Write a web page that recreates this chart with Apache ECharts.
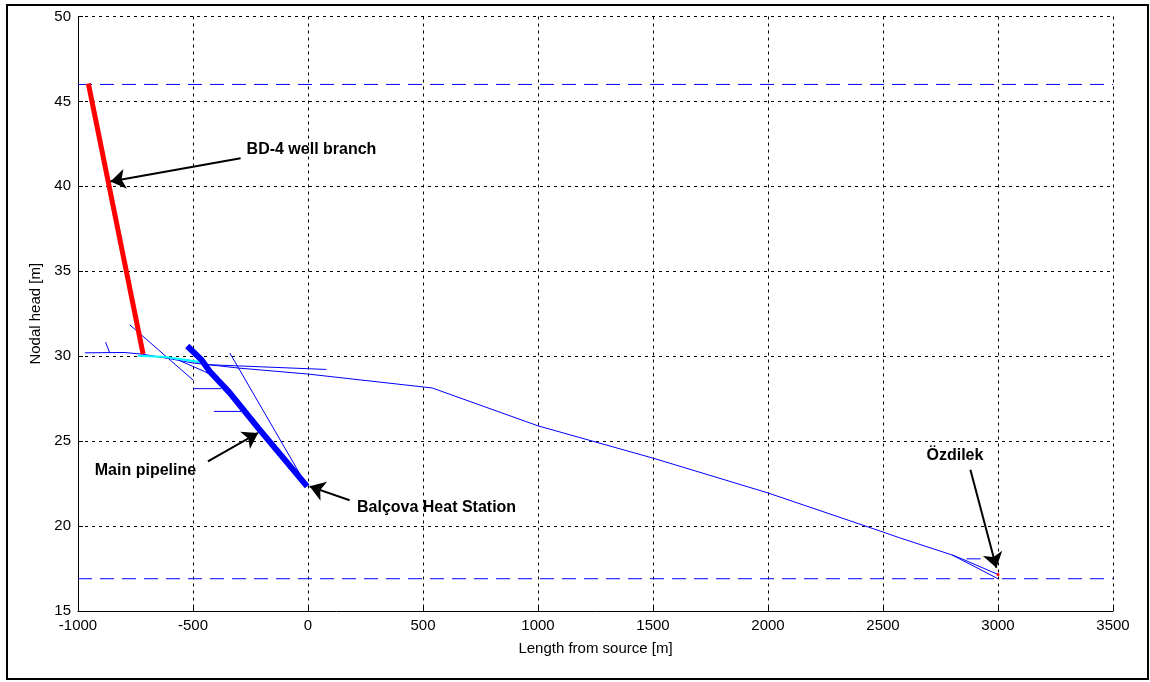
<!DOCTYPE html>
<html>
<head>
<meta charset="utf-8">
<script src="https://cdn.jsdelivr.net/npm/echarts@6/dist/echarts.min.js"></script>
<style>
html,body{margin:0;padding:0;background:#fff;}
#chart{width:1150px;height:682px;}
</style>
</head>
<body>
<div id="chart"></div>
<script>
// ---- axis ranges ----
const xRange = [-1000, 3500, 500];
const yRange = [15, 50, 5];
const xName = 'Length from source [m]';
const yName = 'Nodal head [m]';

// ---- data (length [m], nodal head [m]) ----
const wellBranch = [[-955, 46.05], [-717, 30.13]];
const mainPipeline = [[-525, 30.6], [-464, 29.8], [-427, 29.1], [-340, 27.84], [-217, 25.78], [-4, 22.34]];
const trunk = [[-970, 30.2], [-800, 30.22], [-720, 30.12], [-600, 29.85], [-500, 29.6], [-300, 29.3], [0, 28.95], [540, 28.13], [1000, 25.9], [1500, 24.0], [2000, 21.95], [2500, 19.65], [2572, 19.31], [2800, 18.3], [3000, 16.9]];
const ozdilekBranch = [[2800, 18.3], [2833, 18.13], [3000, 17.15]];
const shortBranchEnd = [[2863, 18.07], [2925, 18.07]];
const branchD = [[-530, 29.8], [-430, 29.5], [80, 29.22]];
const branchF = [[-775, 31.85], [-500, 28.6]];
const branchG = [[-880, 30.83], [-862, 30.19]];
const branchH = [[-500, 28.09], [-377, 28.09]];
const branchI = [[-409, 26.75], [-290, 26.75]];
const branchJ = [[-340, 30.19], [-4, 22.34]];
const branchK = [[-560, 29.75], [-450, 29.1], [-390, 28.7]];
const cyanBranch = [[-739, 30.03], [-620, 29.95], [-442, 29.6]];
const headLevels = [46.0, 16.9];
const ozdilekNode = [[3000, 17.15]];

// ---- annotations ----
const annoTexts = ['BD-4 well branch', 'Main pipeline', 'Balçova Heat Station', 'Özdilek'];
const annoLabelAt = [[-267, 42.19], [-927, 23.26], [213, 21.11], [2689, 24.15]];
const annoTail = [[-293, 41.66], [-435, 23.81], [181, 21.52], [2880, 23.32]];
const annoHead = [[-859, 40.28], [-217, 25.48], [7, 22.34], [2993, 17.54]];

const narrow = "'Liberation Sans Narrow', 'Arial Narrow', 'Liberation Sans', Arial, sans-serif";

function thin(data, color, width) {
  return {
    type: 'line', data: data, symbol: 'none', silent: true, animation: false,
    lineStyle: { color: color || '#0000ff', width: width || 1 }, z: 3
  };
}

const series = [];
headLevels.forEach(function (h) {
  series.push({
    type: 'line', data: [[xRange[0], h], [xRange[1], h]], symbol: 'none', animation: false,
    lineStyle: { color: '#0000ff', width: 1, type: [14, 8] }, z: 2
  });
});
[trunk, ozdilekBranch, shortBranchEnd, branchD, branchF, branchG, branchH, branchI, branchJ, branchK].forEach(function (d) {
  series.push(thin(d));
});
series.push(thin(cyanBranch, '#00ffff', 2));
series.push(thin(mainPipeline, '#0000ff', 6));
series.push(thin(wellBranch, '#ff0000', 5));
series.push({
  type: 'scatter', data: ozdilekNode, symbol: 'circle', symbolSize: 3, animation: false,
  itemStyle: { color: '#ff0000', opacity: 1 }, z: 4
});
series.push({
  type: 'lines', coordinateSystem: 'cartesian2d', animation: false, z: 5,
  symbol: ['none', 'arrow'], symbolSize: [0, 15],
  lineStyle: { color: '#000', width: 2, opacity: 1 },
  data: annoTail.map(function (t, i) { return { coords: [t, annoHead[i]] }; })
});
series.push({
  type: 'scatter', symbolSize: 0, animation: false, z: 6,
  itemStyle: { opacity: 1 },
  data: annoLabelAt.map(function (p, i) { return { value: p, name: annoTexts[i] }; }),
  label: {
    show: true, position: 'right', distance: 0, opacity: 1,
    formatter: function (p) { return p.name; },
    fontFamily: "'Liberation Sans', Arial, sans-serif", fontWeight: 'bold', fontSize: 16, color: '#000'
  }
});

const chart = echarts.init(document.getElementById('chart'), null, { renderer: 'canvas' });
chart.setOption({
  backgroundColor: '#fff',
  animation: false,
  grid: { left: 78, right: 37, top: 16.5, bottom: 71, containLabel: false },
  xAxis: {
    type: 'value', min: xRange[0], max: xRange[1], interval: xRange[2],
    name: xName, nameLocation: 'middle', nameGap: 30,
    nameTextStyle: { fontFamily: narrow, fontSize: 15, color: '#000' },
    axisLine: { show: true, onZero: false, lineStyle: { color: '#000', width: 1 } },
    axisTick: { show: true, inside: true, length: 5, lineStyle: { color: '#000' } },
    axisLabel: { fontFamily: narrow, fontSize: 15, color: '#000', margin: 7, formatter: function (v) { return String(v); } },
    splitLine: { show: true, lineStyle: { color: '#000', width: 1, type: [3, 4] } }
  },
  yAxis: {
    type: 'value', min: yRange[0], max: yRange[1], interval: yRange[2],
    name: yName, nameLocation: 'middle', nameGap: 31, nameRotate: 90,
    nameTextStyle: { fontFamily: narrow, fontSize: 15, color: '#000' },
    axisLine: { show: true, onZero: false, lineStyle: { color: '#000', width: 1 } },
    axisTick: { show: true, inside: true, length: 5, lineStyle: { color: '#000' } },
    axisLabel: { fontFamily: narrow, fontSize: 15, color: '#000', margin: 7, formatter: function (v) { return String(v); } },
    splitLine: { show: true, lineStyle: { color: '#000', width: 1, type: [3, 4] } }
  },
  graphic: [{
    type: 'rect', shape: { x: 7, y: 5, width: 1141, height: 674 },
    style: { fill: null, stroke: '#000', lineWidth: 2 }, z: 100, silent: true
  }],
  series: series
});
</script>
</body>
</html>
